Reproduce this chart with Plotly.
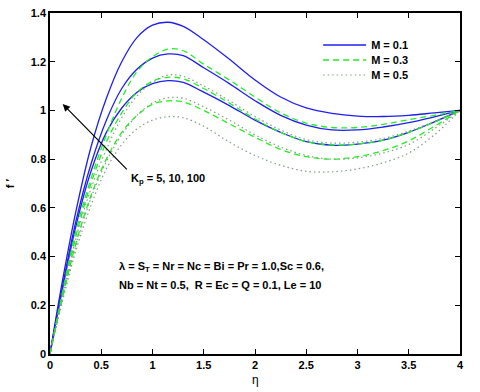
import plotly.graph_objects as go

eta = [0, 0.1, 0.25, 0.4, 0.55, 0.7, 0.85, 1.0, 1.15, 1.3, 1.5, 1.75, 2.0, 2.25, 2.5, 2.75, 3.0, 3.25, 3.5, 3.75, 4.0]

# M = 0.1 (blue solid), Kp groups A, B, C
m01_a = [0, 0.25, 0.58, 0.85, 1.05, 1.20, 1.30, 1.35, 1.362, 1.345, 1.29, 1.21, 1.125, 1.055, 1.01, 0.988, 0.977, 0.975, 0.98, 0.99, 1.0]
m01_b = [0, 0.23, 0.54, 0.78, 0.96, 1.09, 1.17, 1.215, 1.232, 1.225, 1.175, 1.11, 1.04, 0.98, 0.94, 0.92, 0.92, 0.932, 0.95, 0.974, 1.0]
m01_c = [0, 0.22, 0.52, 0.75, 0.91, 1.01, 1.075, 1.11, 1.122, 1.115, 1.075, 1.02, 0.96, 0.91, 0.872, 0.857, 0.862, 0.878, 0.91, 0.953, 1.0]
# M = 0.3 (green dashed)
m03_a = [0, 0.21, 0.50, 0.72, 0.90, 1.05, 1.16, 1.22, 1.252, 1.245, 1.19, 1.125, 1.055, 0.99, 0.948, 0.93, 0.93, 0.943, 0.962, 0.98, 1.0]
m03_b = [0, 0.20, 0.48, 0.70, 0.87, 0.99, 1.075, 1.12, 1.136, 1.13, 1.09, 1.03, 0.965, 0.91, 0.872, 0.858, 0.862, 0.878, 0.91, 0.952, 1.0]
m03_c = [0, 0.19, 0.45, 0.65, 0.80, 0.91, 0.98, 1.025, 1.039, 1.035, 1.0, 0.945, 0.89, 0.84, 0.81, 0.80, 0.81, 0.835, 0.875, 0.935, 1.0]
# M = 0.5 (grey dotted)
m05_a = [0, 0.20, 0.47, 0.68, 0.84, 0.97, 1.06, 1.115, 1.145, 1.14, 1.10, 1.04, 0.975, 0.92, 0.88, 0.866, 0.87, 0.885, 0.915, 0.955, 1.0]
m05_b = [0, 0.19, 0.44, 0.64, 0.79, 0.90, 0.98, 1.03, 1.052, 1.05, 1.015, 0.96, 0.90, 0.85, 0.815, 0.80, 0.805, 0.825, 0.86, 0.925, 1.0]
m05_c = [0, 0.18, 0.42, 0.61, 0.76, 0.86, 0.925, 0.96, 0.974, 0.97, 0.935, 0.87, 0.815, 0.775, 0.75, 0.748, 0.76, 0.785, 0.825, 0.90, 1.0]

legend_names = ["M = 0.1", "M = 0.3", "M = 0.5"]
x_ticks = [0, 0.5, 1, 1.5, 2, 2.5, 3, 3.5, 4]
x_tick_text = ["0", "0.5", "1", "1.5", "2", "2.5", "3", "3.5", "4"]
y_ticks = [0, 0.2, 0.4, 0.6, 0.8, 1.0, 1.2, 1.4]
y_tick_text = ["0", "0.2", "0.4", "0.6", "0.8", "1", "1.2", "1.4"]

styles = [
    dict(color="#1f1fef", width=1.3, dash="solid"),
    dict(color="#22ee22", width=1.3, dash="6px,4px"),
    dict(color="#7f9f7f", width=1.2, dash="1.5px,3px"),
]
groups = [[m01_a, m01_b, m01_c], [m03_a, m03_b, m03_c], [m05_a, m05_b, m05_c]]
legend_ids = ["legend", "legend2", "legend3"]

fig = go.Figure()
for gi, (name, st, series) in enumerate(zip(legend_names, styles, groups)):
    for si, ys in enumerate(series):
        fig.add_trace(go.Scatter(
            x=eta, y=ys, mode="lines", name=name,
            line=dict(color=st["color"], width=st["width"], dash=st["dash"], shape="spline", smoothing=1.0),
            showlegend=(si == 0), legendgroup=name, legend=legend_ids[gi],
        ))

font_main = "Liberation Sans, Arial, sans-serif"
leg_font = dict(family=font_main, size=11, color="black", weight="bold")

# plot area: 410 x 341 px, top at 13 px
def leg(screen_y):
    return dict(x=0.654, y=1 - (screen_y - 13) / 341, xanchor="left", yanchor="middle",
                bgcolor="rgba(255,255,255,0)", borderwidth=0,
                font=leg_font, itemwidth=43)

fig.update_layout(
    width=480, height=392,
    margin=dict(l=50, r=20, t=13, b=38, autoexpand=False),
    paper_bgcolor="white", plot_bgcolor="white",
    font=dict(family=font_main, size=11, color="black"),
    showlegend=True,
    legend=leg(45),
    legend2=leg(60),
    legend3=leg(75),
    xaxis=dict(range=[0, 4], tickvals=x_ticks, ticktext=x_tick_text,
               ticks="inside", ticklen=5, tickwidth=1, tickcolor="black",
               showline=True, linecolor="black", linewidth=1.5, mirror="ticks",
               showgrid=False, zeroline=False, automargin=False,
               tickfont=dict(family=font_main, size=11, weight="bold")),
    yaxis=dict(range=[0, 1.4], tickvals=y_ticks, ticktext=y_tick_text,
               ticks="inside", ticklen=5, tickwidth=1, tickcolor="black",
               showline=True, linecolor="black", linewidth=1.5, mirror="ticks",
               showgrid=False, zeroline=False, automargin=False,
               tickfont=dict(family=font_main, size=11, weight="bold")),
)

# axis titles
fig.add_annotation(x=0.5, y=-0.076, xref="paper", yref="paper", xanchor="center", yanchor="middle",
                   text="η", showarrow=False, font=dict(family=font_main, size=12))
fig.add_annotation(x=-0.098, y=0.5, xref="paper", yref="paper", xanchor="center", yanchor="middle",
                   text="f ′", textangle=-90, showarrow=False, font=dict(family=font_main, size=11, weight="bold"))

fig.add_annotation(x=0.124, y=1.026, ax=0.764, ay=0.752, xref="x", yref="y", axref="x", ayref="y",
                   text="", showarrow=True, arrowhead=2, arrowsize=1.2, arrowwidth=1.2, arrowcolor="black")
fig.add_annotation(x=0.77, y=0.72, xref="x", yref="y", xanchor="left", yanchor="middle",
                   text="K<sub>p</sub> = 5, 10, 100", showarrow=False,
                   font=dict(family=font_main, size=11, weight="bold"))
fig.add_annotation(x=0.655, y=0.357, xref="x", yref="y", xanchor="left", yanchor="middle",
                   text="λ = S<sub>T</sub> = Nr = Nc = Bi = Pr = 1.0,Sc = 0.6,", showarrow=False,
                   font=dict(family=font_main, size=11, weight="bold"))
fig.add_annotation(x=0.655, y=0.283, xref="x", yref="y", xanchor="left", yanchor="middle",
                   text="Nb = Nt = 0.5,  R = Ec = Q = 0.1, Le = 10", showarrow=False,
                   font=dict(family=font_main, size=11, weight="bold"))

fig.write_html("out.html",
               config={"displayModeBar": False},
               post_script="document.body.style.margin='0px';document.body.style.overflow='hidden';")
